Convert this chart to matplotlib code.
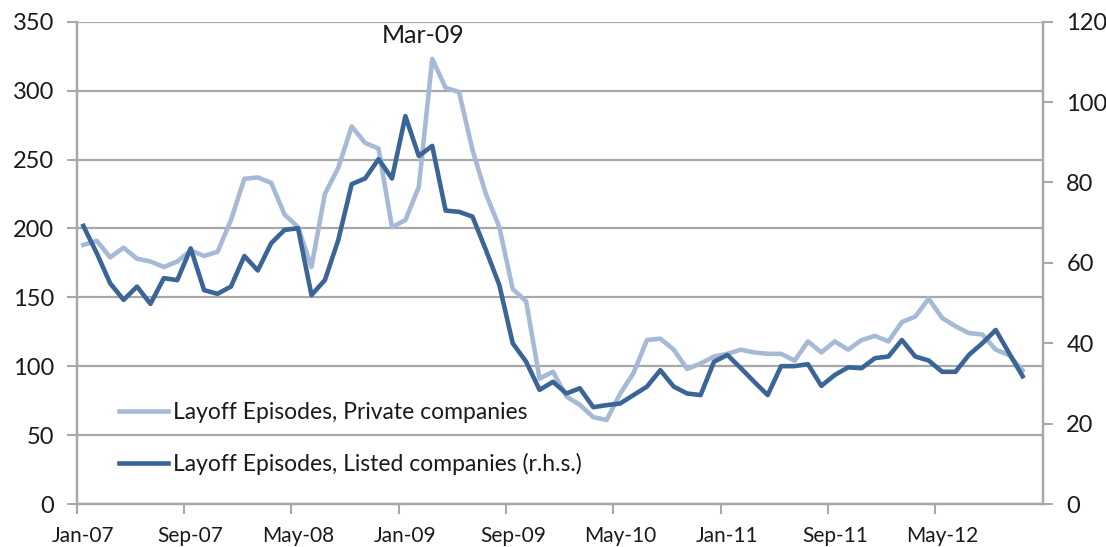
import matplotlib
matplotlib.use("Agg")
import matplotlib.pyplot as plt
import numpy as np

plt.rcParams['font.family'] = ['Lato', 'DejaVu Sans']

# monthly, Jan-07 .. Nov-12
private = [188, 191, 179, 186, 178, 176, 172, 176, 184, 180, 183, 206,
           236, 237, 233, 210, 201, 172, 225, 244, 274, 262, 258, 201,
           206, 230, 323, 302, 299, 257, 225, 201, 156, 147, 91, 96,
           78, 72, 63, 61, 80, 95, 119, 120, 112, 98, 102, 107,
           109, 112, 110, 109, 109, 104, 118, 110, 118, 112, 119, 122,
           118, 132, 136, 149, 135, 129, 124, 123, 112, 108, 97]
listed = [69.2, 62.4, 54.9, 50.8, 54.1, 49.8, 56.2, 55.7, 63.6, 53.2, 52.3, 54.1,
          61.7, 58.1, 64.9, 68.2, 68.6, 52.0, 55.7, 65.7, 79.6, 81.0, 85.8, 81.0,
          96.5, 86.6, 89.1, 73.0, 72.7, 71.5, 63.2, 54.5, 40.0, 35.4, 28.4, 30.4,
          27.5, 28.8, 24.1, 24.6, 25.0, 27.1, 29.2, 33.3, 29.2, 27.5, 27.1, 35.4,
          37.1, 33.8, 30.4, 27.1, 34.3, 34.3, 34.8, 29.4, 32.1, 34.0, 33.8, 36.3,
          36.7, 40.8, 36.7, 35.7, 32.9, 32.9, 37.1, 40.0, 43.3, 37.5, 31.8]
tick_labels = ['Jan-07', 'Sep-07', 'May-08', 'Jan-09', 'Sep-09',
               'May-10', 'Jan-11', 'Sep-11', 'May-12']

light = '#a6bad7'
dark = '#3b6597'
grid_c = '#a8a8a8'
txt = '#1a1a1a'

fig = plt.figure(figsize=(11.06, 5.47), dpi=100)
ax = fig.add_axes([0.0693, 0.0786, 0.8735, 0.8817])
ax2 = ax.twinx()

x = np.arange(len(private)) + 0.5
l1, = ax.plot(x, private, color=light, lw=3.3, solid_joinstyle='round',
              label='Layoff Episodes, Private companies')
l2, = ax2.plot(x, listed, color=dark, lw=3.3, solid_joinstyle='round',
               label='Layoff Episodes, Listed companies (r.h.s.)')

ax.set_xlim(0, 72)
ax.set_ylim(0, 350)
ax2.set_ylim(0, 120)
ax.set_yticks(np.arange(0, 351, 50))
ax2.set_yticks(np.arange(0, 121, 20))

# tick marks between months, labels centred on the month
ax.set_xticks(np.arange(0, 72, 8))
ax.set_xticklabels([])
ax.set_xticks(np.arange(0, 72, 8) + 0.5, minor=True)
ax.set_xticklabels(tick_labels, minor=True)
ax.tick_params(axis='x', which='major', length=7, width=1.5, color=grid_c, direction='out')
ax.tick_params(axis='x', which='minor', length=0, pad=16, labelsize=15, labelcolor=txt)
ax.tick_params(axis='y', length=7, width=1.5, color=grid_c, pad=9, labelsize=17, labelcolor=txt)
ax2.tick_params(axis='y', length=7, width=1.5, color=grid_c, pad=10, labelsize=17, labelcolor=txt)

ax.grid(axis='y', color=grid_c, lw=1.6)
ax.set_axisbelow(True)
for a in (ax, ax2):
    a.spines['top'].set_visible(False)
    for s in ('left', 'right', 'bottom'):
        a.spines[s].set_color(grid_c)
        a.spines[s].set_linewidth(1.6)

ax.text(25.8, 340, 'Mar-09', ha='center', va='center', fontsize=18, color=txt)

ax2.legend(handles=[l1, l2], loc='lower left', bbox_to_anchor=(0.023, 0.017),
           frameon=False, fontsize=16.5, handlelength=2.1, handletextpad=0.22,
           labelspacing=1.3, labelcolor=txt)

fig.savefig('out.png', dpi=100)
